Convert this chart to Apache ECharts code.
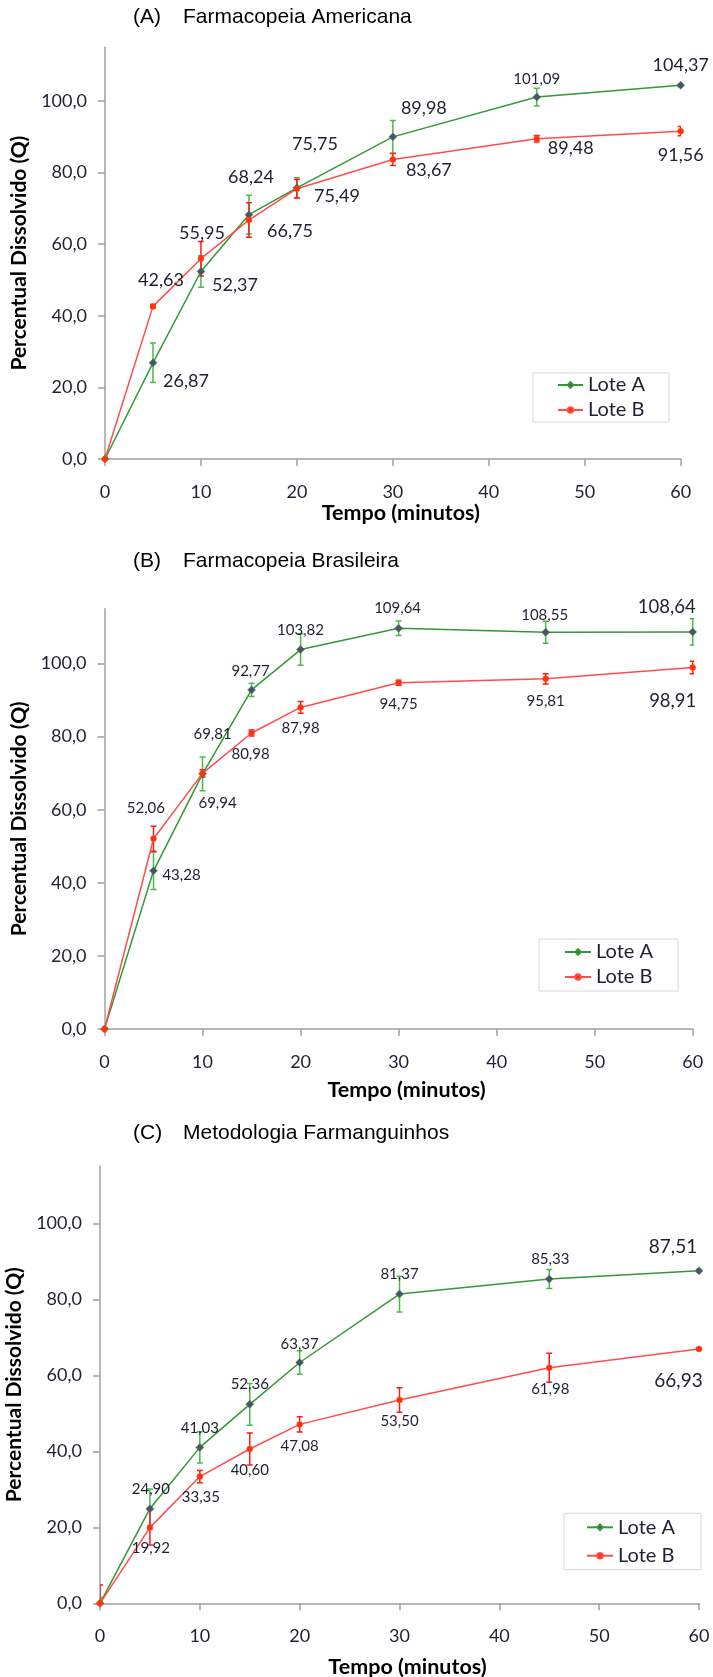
<!DOCTYPE html>
<html><head><meta charset="utf-8">
<script src="https://cdn.jsdelivr.net/npm/echarts@6/dist/echarts.min.js"></script>
<style>html,body{margin:0;padding:0;background:#fff}#c{width:713px;height:1677px}</style>
</head><body><div id="c"></div>
<script>
// ---------- DATA ----------
const times = [0, 5, 10, 15, 20, 30, 45, 60];
const xTicks = [0, 10, 20, 30, 40, 50, 60];
const yTicks = [0, 20, 40, 60, 80, 100];
const panelLetters = ['(A)', '(B)', '(C)'];
const panelTitles = ['Farmacopeia Americana', 'Farmacopeia Brasileira', 'Metodologia Farmanguinhos'];
const seriesNames = ['Lote A', 'Lote B'];
const xAxisTitle = 'Tempo (minutos)';
const yAxisTitle = 'Percentual Dissolvido (Q)';

// (A) Farmacopeia Americana
const uspLoteA = [0, 26.87, 52.37, 68.24, 75.75, 89.98, 101.09, 104.37];
const uspLoteB = [0, 42.63, 55.95, 66.75, 75.49, 83.67, 89.48, 91.56];
const uspErrA  = [1.5, 5.5, 4.4, 5.4, 2.8, 4.6, 2.5, 0.4];
const uspErrB  = [0.5, 0.5, 4.8, 4.8, 2.6, 1.7, 0.9, 1.3];
// (B) Farmacopeia Brasileira
const fbLoteA = [0, 43.28, 69.81, 92.77, 103.82, 109.64, 108.55, 108.64];
const fbLoteB = [0, 52.06, 69.94, 80.98, 87.98, 94.75, 95.81, 98.91];
const fbErrA  = [0.3, 5.1, 4.6, 1.8, 4.3, 2.0, 3.0, 3.6];
const fbErrB  = [0.3, 3.4, 1.0, 0.8, 1.6, 0.7, 1.4, 1.7];
// (C) Metodologia Farmanguinhos
const farLoteA = [0, 24.90, 41.03, 52.36, 63.37, 81.37, 85.33, 87.51];
const farLoteB = [0, 19.92, 33.35, 40.60, 47.08, 53.50, 61.98, 66.93];
const farErrA  = [1.5, 5.2, 4.1, 5.5, 3.1, 4.7, 2.5, 0.3];
const farErrB  = [4.8, 4.6, 1.6, 4.2, 2.0, 3.2, 3.8, 0.3];

// ---------- LAYOUT / STYLE (kept apart from data) ----------
const grids = [
  {left: 105, top: 47.3, width: 575.7, height: 411.7},
  {left: 104.5, top: 608.7, width: 588.2, height: 420.3},
  {left: 100, top: 1166.3, width: 599, height: 437}
];
const titleY = [17.5, 561.7, 1133.3];
const xNameGap = [52.7, 61, 63.4];
const yNameGap = [78, 81.5, 80];
const legends = [
  {left: 533, top: 373, padding: [2, 24, 2, 24], itemGap: 5, itemWidth: 25},
  {left: 539, top: 939, padding: [3, 25, 4, 25], itemGap: 5, itemWidth: 26},
  {left: 564, top: 1513.3, padding: [4, 26, 4, 22], itemGap: 8.4, itemWidth: 26}
];
// label offsets [dx, dy] from point, and font sizes
const labOff = [
  [[null, [33, 18], [34, 14], [2, -38], [18, -44], [31, -29], [0, -18], [0, -20]],
   [null, [8, -26], [1, -26], [41, 11], [40, 7.5], [36, 11], [34, 10], [0, 24]]],
  [[null, [28, 4.5], [10, -40], [-1, -18.5], [0, -19], [-1, -19.7], [-1, -17], [-26, -25]],
   [null, [-7.6, -31], [15, 30], [-1, 21.4], [0, 21], [0, 21.4], [0, 22], [-20, 33.5]]],
  [[null, [1, -19.7], [0, -19.6], [0, -20], [0, -18.7], [0, -20], [1, -19.7], [-26, -23.6]],
   [null, [1, 20.7], [1, 20.7], [0, 21], [0, 22], [0, 21.6], [1, 21.3], [-20.5, 31.6]]]
];
const labSize = [
  [[0, 18, 18, 18, 18, 18, 15, 18], [0, 18, 18, 18, 18, 18, 18, 18]],
  [[0, 15, 15, 15, 15, 15, 15, 18.5], [0, 15, 15, 15, 15, 15, 15, 18.5]],
  [[0, 15, 15, 15, 15, 15, 15, 19], [0, 15, 15, 15, 15, 15, 15, 19]]
];
const lineColors = ['#339933', '#ff4d4d'];
const errColors = ['#4cb84c', '#ff1a1a'];
const markerColors = ['#4f4f70', '#ff3300'];
const markerShapes = ['diamond', 'circle'];
const markerSizes = [8, 6];

const panelValues = [[uspLoteA, uspLoteB], [fbLoteA, fbLoteB], [farLoteA, farLoteB]];
const panelErrors = [[uspErrA, uspErrB], [fbErrA, fbErrB], [farErrA, farErrB]];

const FONT = 'Lato';
const TXT = '#1f2030';
const AXIS = '#a0a0a0';

function fmt(v, d) { return v.toFixed(d).replace('.', ','); }

function errRender(color) {
  return function (params, api) {
    const x = api.value(0), y = api.value(1), e = api.value(2);
    const top = api.coord([x, y + e]);
    const bot = api.coord([x, y - e]);
    const hw = 3;
    const style = {stroke: color, lineWidth: 1.5};
    return {type: 'group', children: [
      {type: 'line', shape: {x1: top[0], y1: top[1], x2: bot[0], y2: bot[1]}, style: style},
      {type: 'line', shape: {x1: top[0] - hw, y1: top[1], x2: top[0] + hw, y2: top[1]}, style: style},
      {type: 'line', shape: {x1: bot[0] - hw, y1: bot[1], x2: bot[0] + hw, y2: bot[1]}, style: style}
    ]};
  };
}

const option = {
  animation: false,
  backgroundColor: '#fff',
  title: [], grid: [], xAxis: [], yAxis: [], legend: [], series: []
};

for (let p = 0; p < 3; p++) {
  const g = grids[p];
  option.title.push({text: panelLetters[p], left: 133, top: titleY[p] - 12, padding: 0,
    textStyle: {fontFamily: 'Liberation Sans', fontSize: 21, lineHeight: 24, fontWeight: 'normal', color: '#000'}});
  option.title.push({text: panelTitles[p], left: 183, top: titleY[p] - 12, padding: 0,
    textStyle: {fontFamily: 'Liberation Sans', fontSize: 21, lineHeight: 24, fontWeight: 'normal', color: '#000'}});
  option.grid.push({left: g.left, top: g.top, width: g.width, height: g.height, containLabel: false, outerBoundsMode: 'none'});
  option.xAxis.push({
    type: 'value', gridIndex: p, min: xTicks[0], max: xTicks[xTicks.length - 1], interval: xTicks[1] - xTicks[0],
    name: xAxisTitle, nameLocation: 'middle', nameGap: xNameGap[p],
    nameTextStyle: {fontFamily: FONT, fontSize: 21.5, fontWeight: 'bold', color: '#000', verticalAlign: 'middle', lineHeight: 22, padding: [0, 0, 0, 16]},
    axisLine: {show: true, lineStyle: {color: AXIS, width: 1.5}},
    axisTick: {show: true, inside: false, length: 7, lineStyle: {color: AXIS, width: 1.5}},
    axisLabel: {fontFamily: FONT, fontSize: 18, lineHeight: 18, color: TXT, margin: 24},
    splitLine: {show: false}
  });
  option.yAxis.push({
    type: 'value', gridIndex: p, min: 0, max: 115, interval: 20,
    name: yAxisTitle, nameLocation: 'middle', nameGap: yNameGap[p], nameRotate: 90,
    nameTextStyle: {fontFamily: FONT, fontSize: 21, fontWeight: 'bold', color: '#000', verticalAlign: 'middle', lineHeight: 22},
    axisLine: {show: true, lineStyle: {color: AXIS, width: 1.5}},
    axisTick: {show: true, inside: false, length: 7, lineStyle: {color: AXIS, width: 1.5}, customValues: yTicks},
    axisLabel: {fontFamily: FONT, fontSize: 18, color: TXT, margin: 18, customValues: yTicks,
      formatter: function (v) { return yTicks.indexOf(v) >= 0 ? fmt(v, 1) : ''; }},
    splitLine: {show: false}
  });
  const lg = legends[p];
  option.legend.push({
    data: seriesNames, orient: 'vertical', left: lg.left, top: lg.top, padding: lg.padding,
    itemGap: lg.itemGap, itemWidth: lg.itemWidth, itemHeight: 7,
    borderColor: '#d9d9d9', borderWidth: 1, backgroundColor: '#fff',
    textStyle: {fontFamily: FONT, fontSize: 20, lineHeight: 20, color: TXT}
  });
  for (let s = 0; s < 2; s++) {
    const vals = panelValues[p][s];
    const errs = panelErrors[p][s];
    option.series.push({
      type: 'custom', name: 'err' + p + s, xAxisIndex: p, yAxisIndex: p, z: 2, clip: true,
      renderItem: errRender(errColors[s]),
      encode: {x: 0, y: 1},
      data: times.map((t, i) => [t, vals[i], errs[i]]),
      silent: true
    });
  }
  for (let s = 0; s < 2; s++) {
    const vals = panelValues[p][s];
    option.series.push({
      type: 'line', name: seriesNames[s], xAxisIndex: p, yAxisIndex: p, z: 3,
      symbol: markerShapes[s], symbolSize: markerSizes[s], showSymbol: true,
      lineStyle: {color: lineColors[s], width: 1.5},
      itemStyle: {color: markerColors[s], borderColor: lineColors[s], borderWidth: 0.5},
      emphasis: {disabled: true},
      data: times.map((t, i) => {
        const off = labOff[p][s][i];
        if (!off) return {value: [t, vals[i]], label: {show: false}};
        return {value: [t, vals[i]], label: {show: true, position: 'inside', offset: off,
          fontSize: labSize[p][s][i], fontFamily: FONT, color: TXT, align: 'center', verticalAlign: 'middle',
          formatter: function (prm) { return fmt(prm.value[1], 2); }}};
      })
    });
  }
}

const chart = echarts.init(document.getElementById('c'), null, {renderer: 'canvas'});
chart.setOption(option);
</script>
</body></html>
